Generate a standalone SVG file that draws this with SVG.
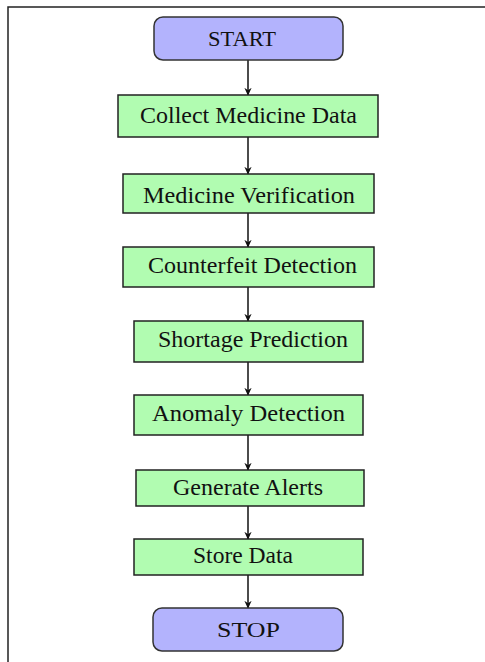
<svg xmlns="http://www.w3.org/2000/svg" width="485" height="662" viewBox="0 0 485 662">
  <defs>
    <marker id="arrow" viewBox="0 0 10 10" refX="9" refY="5" markerWidth="8" markerHeight="8" markerUnits="userSpaceOnUse" orient="auto">
      <path d="M0,0.5 L10,5 L0,9.5 L3,5 Z" fill="#111"/>
    </marker>
    <style>
      .term { fill: #b3b3fd; stroke: #333; stroke-width: 1.5; }
      .step { fill: #b1fcb1; stroke: #222; stroke-width: 1.5; }
      .lbl { font-family: "Liberation Serif", "Times New Roman", serif; font-size: 23px; fill: #111; text-anchor: middle; }
      .tlbl { font-family: "Liberation Serif", "Times New Roman", serif; font-size: 21px; fill: #111; text-anchor: middle; }
      .conn { stroke: #111; stroke-width: 1.5; fill: none; marker-end: url(#arrow); }
      .frame { stroke: #222; stroke-width: 1.5; fill: none; }
    </style>
  </defs>

  <rect width="485" height="662" fill="#fff"/>
  <path class="frame" d="M8,662 V7 H486"/>

  <g id="connectors">
    <line class="conn" x1="248" y1="60" x2="248" y2="95"/>
    <line class="conn" x1="248" y1="137" x2="248" y2="174"/>
    <line class="conn" x1="248" y1="213" x2="248" y2="247"/>
    <line class="conn" x1="248" y1="287" x2="248" y2="321"/>
    <line class="conn" x1="248" y1="362" x2="248" y2="395"/>
    <line class="conn" x1="248" y1="435" x2="248" y2="470"/>
    <line class="conn" x1="248" y1="506" x2="248" y2="539"/>
    <line class="conn" x1="248" y1="575" x2="248" y2="608"/>
  </g>

  <g id="start">
    <rect class="term" x="154" y="17" width="189" height="43" rx="9"/>
    <text class="tlbl" x="242" y="46" textLength="68" lengthAdjust="spacingAndGlyphs">START</text>
  </g>
  <g id="collect">
    <rect class="step" x="118" y="95" width="260" height="42"/>
    <text class="lbl" x="248.5" y="123" textLength="217" lengthAdjust="spacingAndGlyphs">Collect Medicine Data</text>
  </g>
  <g id="verify">
    <rect class="step" x="123" y="174" width="251" height="39"/>
    <text class="lbl" x="249" y="203" textLength="212" lengthAdjust="spacingAndGlyphs">Medicine Verification</text>
  </g>
  <g id="counterfeit">
    <rect class="step" x="123" y="247" width="251" height="40"/>
    <text class="lbl" x="252.5" y="273" textLength="209" lengthAdjust="spacingAndGlyphs">Counterfeit Detection</text>
  </g>
  <g id="shortage">
    <rect class="step" x="134" y="321" width="229" height="41"/>
    <text class="lbl" x="253" y="347" textLength="190" lengthAdjust="spacingAndGlyphs">Shortage Prediction</text>
  </g>
  <g id="anomaly">
    <rect class="step" x="134" y="395" width="229" height="40"/>
    <text class="lbl" x="248.5" y="421" textLength="193" lengthAdjust="spacingAndGlyphs">Anomaly Detection</text>
  </g>
  <g id="alerts">
    <rect class="step" x="136" y="470" width="228" height="36"/>
    <text class="lbl" x="248" y="495" textLength="150" lengthAdjust="spacingAndGlyphs">Generate Alerts</text>
  </g>
  <g id="store">
    <rect class="step" x="134" y="539" width="229" height="36"/>
    <text class="lbl" x="243" y="563" textLength="100" lengthAdjust="spacingAndGlyphs">Store Data</text>
  </g>
  <g id="stop">
    <rect class="term" x="153" y="608" width="190" height="43" rx="9"/>
    <text class="tlbl" x="248.5" y="637" textLength="63" lengthAdjust="spacingAndGlyphs">STOP</text>
  </g>
</svg>
